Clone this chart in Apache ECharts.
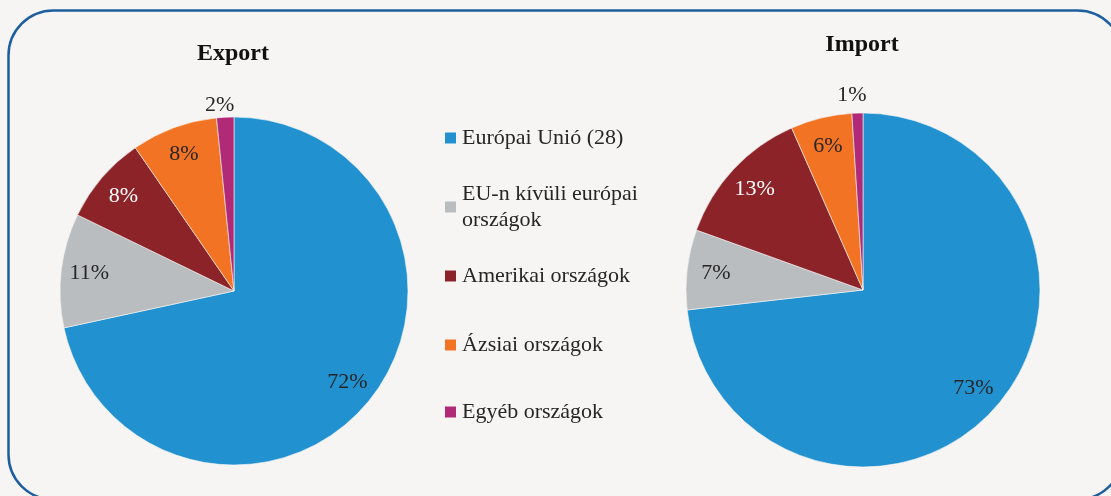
<!DOCTYPE html>
<html>
<head>
<meta charset="utf-8">
<script src="https://cdn.jsdelivr.net/npm/echarts@6/dist/echarts.min.js"></script>
<style>
  html, body { margin: 0; padding: 0; background: #f6f5f3; }
  #chart { width: 1111px; height: 496px; }
</style>
</head>
<body>
<div id="chart"></div>
<script>
// régiók, export / import megoszlás (%)
const regions = ['Európai Unió (28)', 'EU-n kívüli európai\nországok', 'Amerikai országok', 'Ázsiai országok', 'Egyéb országok']
const exportShare = [71.6, 10.6, 8.2, 8.0, 1.6]
const importShare = [73.2, 7.3, 12.9, 5.6, 1.0]
const exportLabels = ['72%', '11%', '8%', '8%', '2%']
const importLabels = ['73%', '7%', '13%', '6%', '1%']

const colors = ['#2191d0', '#babdc0', '#8b2328', '#f37324', '#b02a78']
const serif = '"Liberation Serif", "DejaVu Serif", serif'

var chartDom = document.getElementById('chart')
var myChart = echarts.init(chartDom)

// kicsi szeletek (< 3%) címkéje kívül
function pieSeries(values, labels, center, r, outLen) {
  var data = values.map(function (v, i) {
    return {
      name: regions[i],
      value: v,
      label: {
        show: v < 3,
        position: 'outside',
        formatter: labels[i]
      }
    }
  })
  var overlay = values.map(function (v, i) {
    return {
      name: regions[i],
      value: v,
      label: {
        show: v >= 3,
        formatter: labels[i],
        color: i === 2 ? '#ffffff' : '#262626'
      }
    }
  })
  return [
    {
      type: 'pie',
      center: center,
      radius: [0, r],
      startAngle: 90,
      avoidLabelOverlap: false,
      itemStyle: { borderColor: '#f6f5f3', borderWidth: 0.6 },
      label: { fontFamily: serif, fontSize: 22, color: '#262626' },
      labelLine: { show: false, length: outLen, length2: 0 },
      labelLayout: function () {
        return { align: 'center', verticalAlign: 'middle' }
      },
      emphasis: { disabled: true },
      data: data
    },
    {
      // átlátszó réteg a belső címkéknek (kb. 0.82 r távolságra)
      type: 'pie',
      center: center,
      radius: [0, r * 1.64],
      startAngle: 90,
      silent: true,
      avoidLabelOverlap: false,
      itemStyle: { color: 'rgba(0,0,0,0)' },
      label: { position: 'inside', fontFamily: serif, fontSize: 22 },
      labelLine: { show: false },
      emphasis: { disabled: true },
      data: overlay
    }
  ]
}

var legendTops = [125, 194, 263, 332, 399]
var legends = regions.map(function (name, i) {
  return {
    orient: 'vertical',
    left: 443,
    top: i === 1 ? legendTops[i] - 26 : legendTops[i],
    padding: 0,
    itemWidth: 13,
    itemHeight: 13,
    icon: 'rect',
    selectedMode: false,
    textStyle: {
      fontFamily: serif,
      fontSize: 22,
      color: '#262626',
      lineHeight: 26,
      padding: i === 1 ? [26, 0, 0, 0] : 0
    },
    data: [name]
  }
})

var option = {
  backgroundColor: '#f6f5f3',
  color: colors,
  animation: false,
  title: [
    { text: 'Export', left: 228, top: 49, textAlign: 'center', textVerticalAlign: 'middle',
      textStyle: { fontFamily: serif, fontSize: 24, fontWeight: 'bold', color: '#111' } },
    { text: 'Import', left: 857, top: 40, textAlign: 'center', textVerticalAlign: 'middle',
      textStyle: { fontFamily: serif, fontSize: 24, fontWeight: 'bold', color: '#111' } }
  ],
  legend: legends,
  graphic: [{
    type: 'rect',
    silent: true,
    shape: { x: 8.5, y: 10.5, width: 1114, height: 489, r: 45 },
    style: { fill: 'none', stroke: '#1e5e9f', lineWidth: 2.5 }
  }],
  series: pieSeries(exportShare, exportLabels, [234, 291], 174, 12)
    .concat(pieSeries(importShare, importLabels, [863, 290], 177, 18))
}

option && myChart.setOption(option)
</script>
</body>
</html>
